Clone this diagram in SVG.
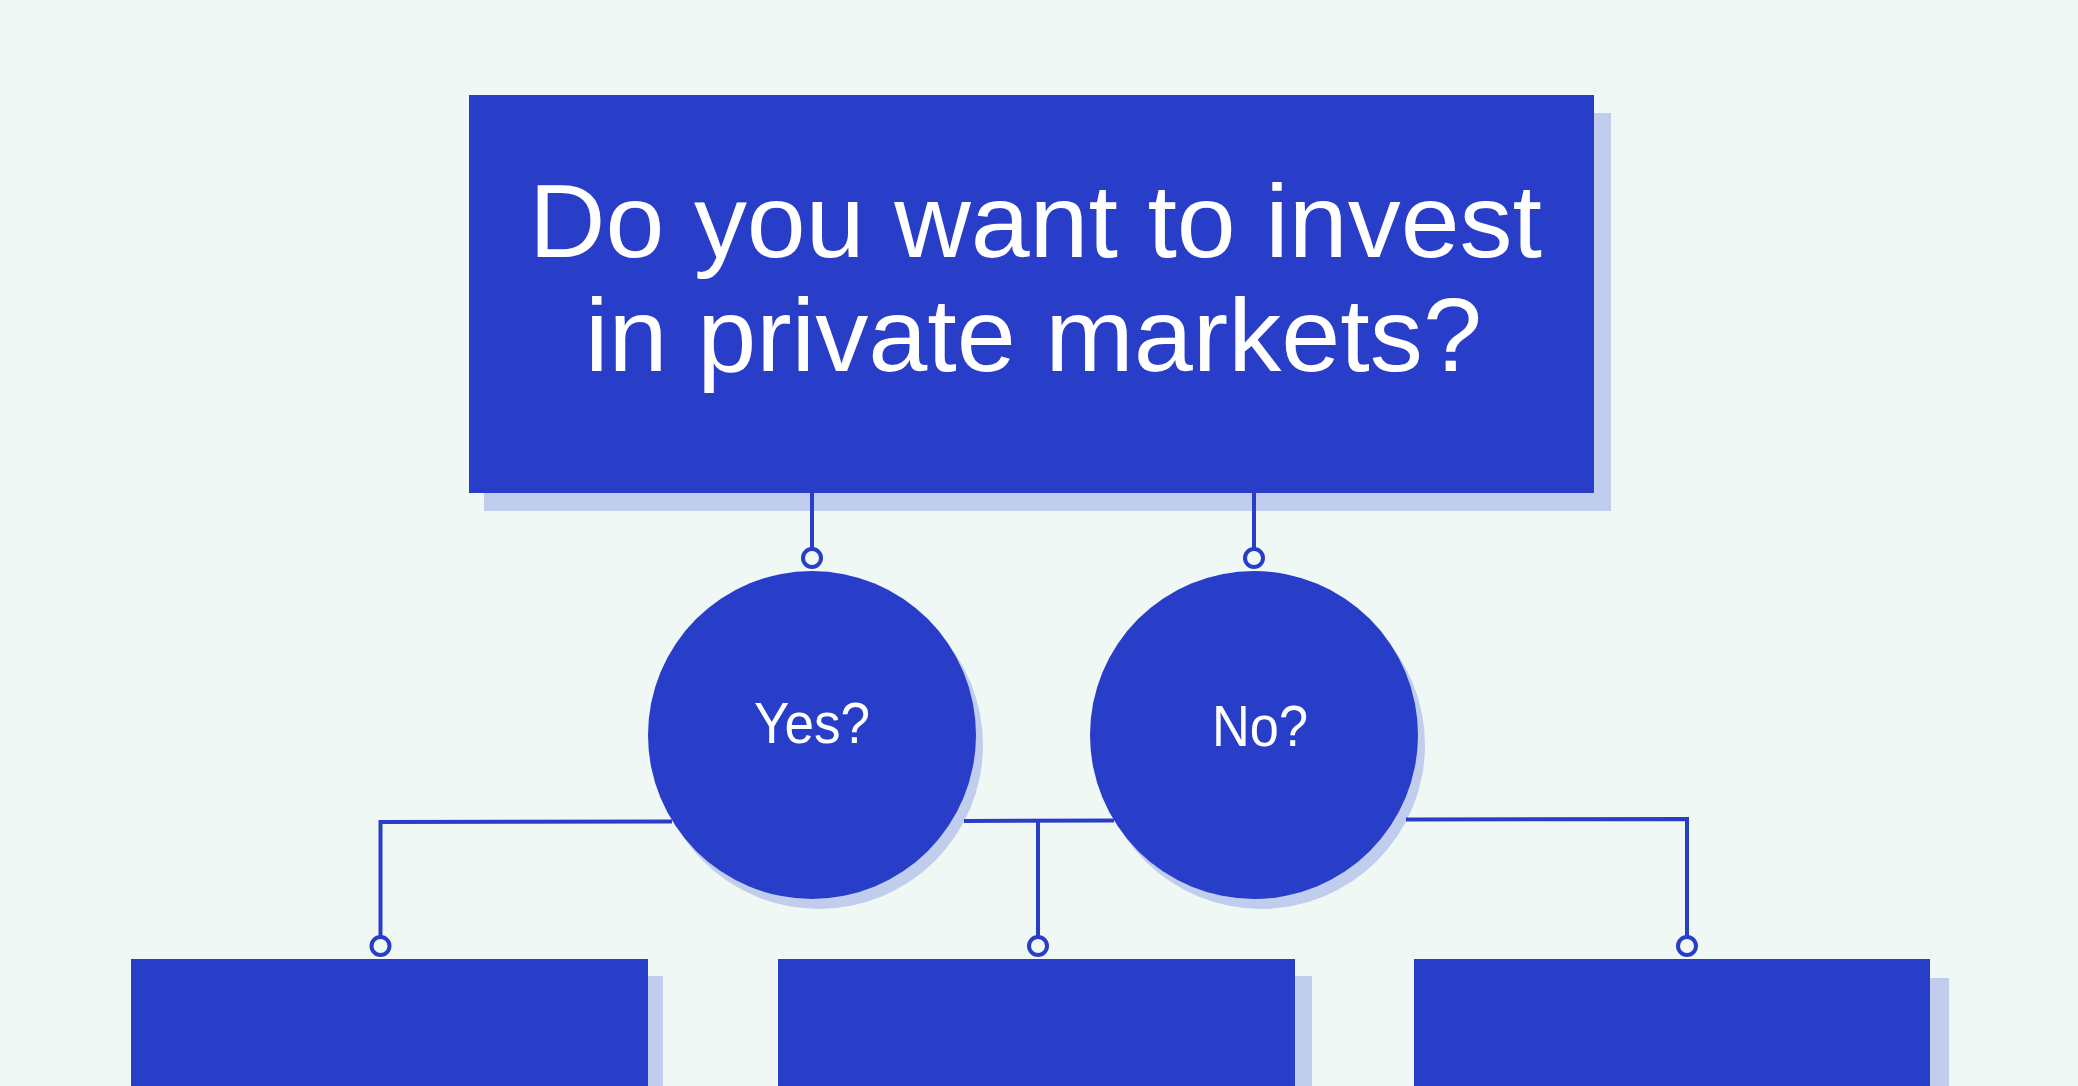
<svg xmlns="http://www.w3.org/2000/svg" width="2078" height="1086" viewBox="0 0 2078 1086">
<style>
.bg{fill:#f0f8f6}
.node{fill:#283ec8}
.shadow{fill:#c0cdec}
.t{fill:#ffffff;font-family:"Liberation Sans",Arial,sans-serif}
.big{font-size:103px}
.mid{font-size:57px}
.line{stroke:#283ec8;stroke-width:4;fill:none}
.ring{stroke:#283ec8;stroke-width:4;fill:#f0f8f6}
</style>
<rect class="bg" x="0" y="0" width="2078" height="1086"/>
<g id="question">
<rect class="shadow" x="484" y="113" width="1127" height="398"/>
<rect class="node" x="469" y="95" width="1125" height="398"/>
<text class="t big" x="529" y="257" textLength="1013" lengthAdjust="spacingAndGlyphs">Do you want to invest</text>
<text class="t big" x="585" y="371" textLength="897" lengthAdjust="spacingAndGlyphs">in private markets?</text>
</g>
<g id="yes">
<circle class="shadow" cx="819" cy="745" r="164"/>
<circle class="node" cx="812" cy="735" r="164"/>
<text class="t mid" x="754" y="743" textLength="116" lengthAdjust="spacingAndGlyphs">Yes?</text>
</g>
<g id="no">
<circle class="shadow" cx="1261" cy="745" r="164"/>
<circle class="node" cx="1254" cy="735" r="164"/>
<text class="t mid" x="1212" y="746" textLength="96" lengthAdjust="spacingAndGlyphs">No?</text>
</g>
<g id="box1">
<rect class="shadow" x="147" y="976" width="516" height="120"/>
<rect class="node" x="131" y="959" width="517" height="130"/>
</g>
<g id="box2">
<rect class="shadow" x="794" y="976" width="518" height="120"/>
<rect class="node" x="778" y="959" width="517" height="130"/>
</g>
<g id="box3">
<rect class="shadow" x="1430" y="978" width="519" height="120"/>
<rect class="node" x="1414" y="959" width="516" height="130"/>
</g>
<g id="connectors">
<line class="line" x1="812" y1="493" x2="812" y2="548"/>
<circle class="ring" cx="812" cy="558" r="9"/>
<line class="line" x1="1254" y1="493" x2="1254" y2="548"/>
<circle class="ring" cx="1254" cy="558" r="9"/>
<polyline class="line" points="380.5,937 380.5,822 672,821.5"/>
<line class="line" x1="964" y1="821" x2="1114" y2="820.5"/>
<line class="line" x1="1038" y1="821" x2="1038" y2="937"/>
<polyline class="line" points="1406,819.5 1687,819 1687,937"/>
<circle class="ring" cx="380.5" cy="946" r="9"/>
<circle class="ring" cx="1038" cy="946" r="9"/>
<circle class="ring" cx="1687" cy="946" r="9"/>
</g>
</svg>
